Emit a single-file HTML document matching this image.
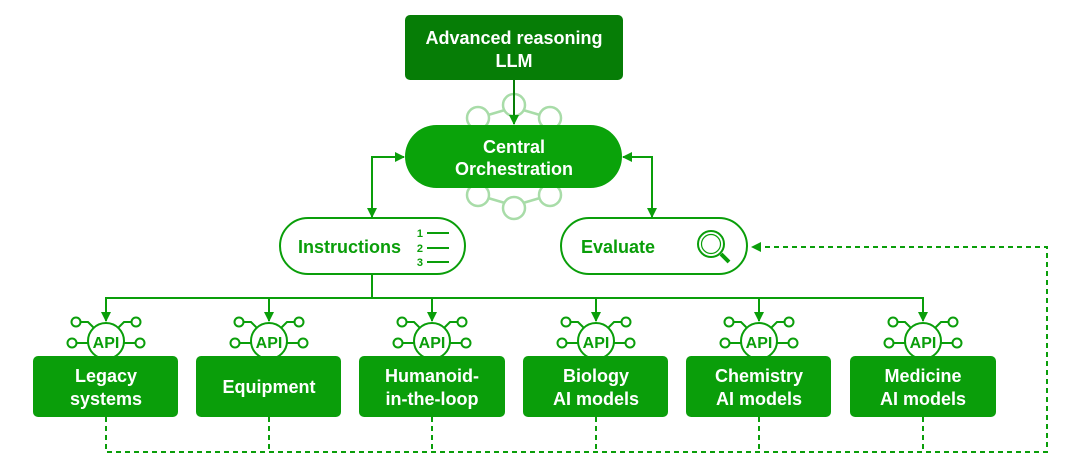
<!DOCTYPE html>
<html><head><style>
body{margin:0;background:#fff}
svg text{font-family:"Liberation Sans",sans-serif;font-weight:bold}
</style></head><body>
<svg width="1080" height="468" viewBox="0 0 1080 468" xmlns="http://www.w3.org/2000/svg">
<defs>
<marker id="a" markerWidth="10" markerHeight="10" refX="9" refY="5" orient="auto" markerUnits="userSpaceOnUse"><path d="M0,0 L10,5 L0,10 z" fill="#0a9e0a"/></marker>
<g id="api" fill="none" stroke="#0a9e0a" stroke-width="2">
<circle cx="0" cy="0" r="18"/>
<text x="0" y="7" font-size="16" fill="#0a9e0a" stroke="none" text-anchor="middle">API</text>
<path d="M-12,-13 L-18,-19 L-25,-19"/><circle cx="-30" cy="-19" r="4.5"/>
<path d="M12,-13 L18,-19 L25,-19"/><circle cx="30" cy="-19" r="4.5"/>
<line x1="-18" y1="2" x2="-29" y2="2"/><circle cx="-34" cy="2" r="4.5"/>
<line x1="18" y1="2" x2="29" y2="2"/><circle cx="34" cy="2" r="4.5"/>
</g>
</defs>
<g fill="none" stroke="#a8dca8" stroke-width="2.5">
<circle cx="514" cy="105" r="11"/><circle cx="478" cy="118" r="11"/><circle cx="550" cy="118" r="11"/>
<circle cx="514" cy="208" r="11"/><circle cx="478" cy="195" r="11"/><circle cx="550" cy="195" r="11"/>
<line x1="488" y1="115" x2="505" y2="110"/><line x1="540" y1="115" x2="523" y2="110"/>
<line x1="488" y1="198" x2="505" y2="203"/><line x1="540" y1="198" x2="523" y2="203"/>
</g>
<rect x="405" y="15" width="218" height="65" rx="5" fill="#067d06"/>
<text x="514" y="44" font-size="18" fill="#fff" text-anchor="middle">Advanced reasoning</text>
<text x="514" y="67" font-size="18" fill="#fff" text-anchor="middle">LLM</text>
<line x1="514" y1="80" x2="514" y2="124" stroke="#067d06" stroke-width="2" marker-end="url(#a)"/>
<rect x="405" y="125" width="217" height="63" rx="31.5" fill="#0aa30a"/>
<text x="514" y="153" font-size="18" fill="#fff" text-anchor="middle">Central</text>
<text x="514" y="175" font-size="18" fill="#fff" text-anchor="middle">Orchestration</text>
<g fill="none" stroke="#0a9e0a" stroke-width="2">
<path d="M372,217 V157 H404" marker-end="url(#a)"/>
<path d="M372,157 V217" marker-end="url(#a)"/>
<path d="M652,217 V157 H623" marker-end="url(#a)"/>
<path d="M652,157 V217" marker-end="url(#a)"/>
<rect x="280" y="218" width="185" height="56" rx="28" fill="#fff"/>
<rect x="561" y="218" width="186" height="56" rx="28" fill="#fff"/>
<line x1="427" y1="233" x2="449" y2="233"/><line x1="427" y1="248" x2="449" y2="248"/><line x1="427" y1="262" x2="449" y2="262"/>
<circle cx="711" cy="244" r="13"/><circle cx="711" cy="244" r="9.5" stroke-width="1.2"/>
<line x1="721" y1="254" x2="729" y2="262" stroke-width="4"/>
<path d="M372,274 V298"/>
<path d="M106,320 V298 H923 V320"/>
<path d="M106,298 V321" marker-end="url(#a)"/><path d="M269,298 V321" marker-end="url(#a)"/>
<path d="M432,298 V321" marker-end="url(#a)"/><path d="M596,298 V321" marker-end="url(#a)"/>
<path d="M759,298 V321" marker-end="url(#a)"/><path d="M923,298 V321" marker-end="url(#a)"/>
<g stroke-dasharray="5,4">
<path d="M106,417 V452 H1047 V247 H752" marker-end="url(#a)"/>
<path d="M269,417 V452 M432,417 V452 M596,417 V452 M759,417 V452 M923,417 V452"/>
</g>
</g>
<text x="298" y="253" font-size="18" fill="#0a9e0a">Instructions</text>
<text x="423" y="237" font-size="11" fill="#0a9e0a" text-anchor="end">1</text>
<text x="423" y="252" font-size="11" fill="#0a9e0a" text-anchor="end">2</text>
<text x="423" y="266" font-size="11" fill="#0a9e0a" text-anchor="end">3</text>
<text x="581" y="253" font-size="18" fill="#0a9e0a">Evaluate</text>
<use href="#api" x="106" y="341"/><use href="#api" x="269" y="341"/><use href="#api" x="432" y="341"/>
<use href="#api" x="596" y="341"/><use href="#api" x="759" y="341"/><use href="#api" x="923" y="341"/>
<g fill="#0a9e0a">
<rect x="33" y="356" width="145" height="61" rx="5"/><rect x="196" y="356" width="145" height="61" rx="5"/>
<rect x="359" y="356" width="146" height="61" rx="5"/><rect x="523" y="356" width="145" height="61" rx="5"/>
<rect x="686" y="356" width="145" height="61" rx="5"/><rect x="850" y="356" width="146" height="61" rx="5"/>
</g>
<g font-size="18" fill="#fff" text-anchor="middle">
<text x="106" y="382">Legacy</text><text x="106" y="405">systems</text>
<text x="269" y="393">Equipment</text>
<text x="432" y="382">Humanoid-</text><text x="432" y="405">in-the-loop</text>
<text x="596" y="382">Biology</text><text x="596" y="405">AI models</text>
<text x="759" y="382">Chemistry</text><text x="759" y="405">AI models</text>
<text x="923" y="382">Medicine</text><text x="923" y="405">AI models</text>
</g>
</svg>
</body></html>
